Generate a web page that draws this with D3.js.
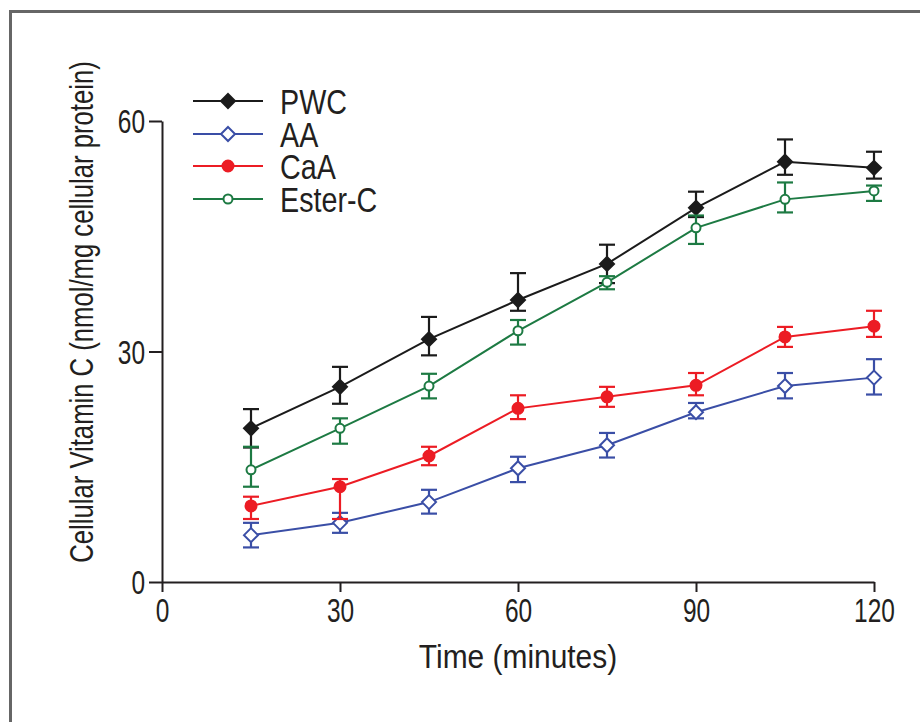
<!DOCTYPE html>
<html>
<head>
<meta charset="utf-8">
<script src="https://cdn.jsdelivr.net/npm/d3@7"></script>
<style>
  body { margin: 0; background: #fff; }
  svg text { font-family: "Liberation Sans", Arial, sans-serif; fill: #231f20; }
</style>
</head>
<body>
<div id="chart"></div>
<script>
// time points (minutes)
const times = [15, 30, 45, 60, 75, 90, 105, 120];
const xTicks = [0, 30, 60, 90, 120];
const yTicks = [0, 30, 60];

// means and error bar extents (above / below)
const pwc = [20.0, 25.4, 31.6, 36.7, 41.4, 48.7, 54.7, 53.9];
const pwcHi = [2.5, 2.6, 2.9, 3.5, 2.5, 2.1, 2.9, 2.1];
const pwcLo = [2.5, 2.2, 2.1, 1.4, 2.5, 1.2, 1.7, 1.4];

const aa = [6.1, 7.7, 10.4, 14.8, 17.8, 22.1, 25.5, 26.6];
const aaHi = [1.6, 1.3, 1.6, 1.5, 1.6, 1.2, 1.7, 2.4];
const aaLo = [1.6, 1.3, 1.5, 1.8, 1.6, 0.8, 1.6, 2.2];

const caa = [9.9, 12.4, 16.4, 22.6, 24.1, 25.6, 31.9, 33.3];
const caaHi = [1.2, 1.0, 1.2, 1.7, 1.3, 1.6, 1.3, 2.0];
const caaLo = [1.7, 4.2, 1.2, 1.4, 1.3, 1.3, 1.3, 1.4];

const ester = [14.6, 20.0, 25.5, 32.7, 39.0, 46.1, 49.8, 50.9];
const esterHi = [3.0, 1.3, 1.6, 1.4, 0.8, 1.6, 2.2, 0.7];
const esterLo = [2.2, 2.0, 1.6, 1.8, 0.9, 2.1, 1.7, 1.3];

const series = [
  {name: 'PWC', values: pwc, hi: pwcHi, lo: pwcLo, color: '#1b1b1b', shape: 'diamond', filled: true},
  {name: 'AA', values: aa, hi: aaHi, lo: aaLo, color: '#3a4ea6', shape: 'diamond', filled: false},
  {name: 'CaA', values: caa, hi: caaHi, lo: caaLo, color: '#ec1c24', shape: 'circle', filled: true},
  {name: 'Ester-C', values: ester, hi: esterHi, lo: esterLo, color: '#1d7a43', shape: 'circle', filled: false},
];

const width = 920;
const height = 722;
const margin = {top: 121, right: 46, bottom: 140, left: 162};
const fontSize = 34;
// the original uses a condensed face; squeeze a regular one horizontally
const tickSqueeze = 0.72;

const svg = d3.select('#chart')
    .append('svg')
    .attr('width', width)
    .attr('height', height);

// frame (open on the right and bottom, cropped)
svg.append('path')
    .attr('d', `M10.5,${height + 5} V11.5 H${width + 5}`)
    .attr('fill', 'none')
    .attr('stroke', '#666')
    .attr('stroke-width', 3);

const x = d3.scaleLinear()
    .domain([0, 120])
    .range([margin.left, width - margin.right]);

const y = d3.scaleLinear()
    .domain([0, 60])
    .range([height - margin.bottom, margin.top]);

const g = svg.append('g');

const xAxis = g.append('g')
    .attr('transform', `translate(0, ${y(0)})`)
    .call(d3.axisBottom(x).tickValues(xTicks).tickSize(10).tickSizeOuter(0).tickPadding(6));

const yAxis = g.append('g')
    .attr('transform', `translate(${x(0)}, 0)`)
    .call(d3.axisLeft(y).tickValues(yTicks).tickSize(13).tickSizeOuter(0).tickPadding(4));

[xAxis, yAxis].forEach((ax) => {
  ax.select('.domain').attr('stroke', '#231f20').attr('stroke-width', 2);
  ax.selectAll('.tick line').attr('stroke', '#231f20').attr('stroke-width', 2);
  ax.selectAll('.tick text')
      .style('font-size', fontSize + 'px')
      .attr('fill', '#231f20')
      .attr('transform', `scale(${tickSqueeze}, 1)`);
});
yAxis.selectAll('.tick text')
    .attr('x', -17 / tickSqueeze)
    .attr('dy', '0.34em');

// axis titles
svg.append('text')
    .attr('transform', `translate(${x(60)}, 668) scale(0.88, 1)`)
    .attr('text-anchor', 'middle')
    .style('font-size', fontSize + 'px')
    .text('Time (minutes)');

svg.append('text')
    .attr('transform', `translate(93, 312) rotate(-90) scale(0.755, 1)`)
    .attr('text-anchor', 'middle')
    .style('font-size', fontSize + 'px')
    .text('Cellular Vitamin C (nmol/mg cellular protein)');

const line = d3.line()
    .x((d) => x(d.t))
    .y((d) => y(d.v));

const drawMarker = (sel, s) => {
  if (s.shape === 'diamond') {
    sel.append('path')
        .attr('d', 'M0,-7 L7,0 L0,7 L-7,0 Z')
        .attr('fill', s.filled ? s.color : '#fff')
        .attr('stroke', s.color)
        .attr('stroke-width', 2);
  } else {
    sel.append('circle')
        .attr('r', s.filled ? 5.5 : 4.5)
        .attr('fill', s.filled ? s.color : '#fff')
        .attr('stroke', s.color)
        .attr('stroke-width', 2);
  }
};

const capW = 8;

series.forEach((s) => {
  const pts = times.map((t, i) => ({t: t, v: s.values[i], hi: s.hi[i], lo: s.lo[i]}));
  const sg = g.append('g');

  sg.append('path')
      .datum(pts)
      .attr('fill', 'none')
      .attr('stroke', s.color)
      .attr('stroke-width', 2)
      .attr('d', line);

  const eb = sg.selectAll('.err')
      .data(pts)
      .enter()
      .append('g')
      .attr('stroke', s.color)
      .attr('stroke-width', 2.2);
  eb.append('line')
      .attr('x1', (d) => x(d.t)).attr('x2', (d) => x(d.t))
      .attr('y1', (d) => y(d.v + d.hi)).attr('y2', (d) => y(d.v - d.lo));
  eb.append('line')
      .attr('x1', (d) => x(d.t) - capW).attr('x2', (d) => x(d.t) + capW)
      .attr('y1', (d) => y(d.v + d.hi)).attr('y2', (d) => y(d.v + d.hi));
  eb.append('line')
      .attr('x1', (d) => x(d.t) - capW).attr('x2', (d) => x(d.t) + capW)
      .attr('y1', (d) => y(d.v - d.lo)).attr('y2', (d) => y(d.v - d.lo));

  sg.selectAll('.pt')
      .data(pts)
      .enter()
      .append('g')
      .attr('transform', (d) => `translate(${x(d.t)}, ${y(d.v)})`)
      .each(function() {
        drawMarker(d3.select(this), s);
      });
});

// legend
const legend = svg.append('g');
const legendY = [101, 134, 166, 199];
series.forEach((s, i) => {
  const row = legend.append('g').attr('transform', `translate(193, ${legendY[i]})`);
  row.append('line')
      .attr('x1', 0).attr('x2', 70)
      .attr('stroke', s.color)
      .attr('stroke-width', 2);
  const m = row.append('g').attr('transform', 'translate(35, 0)');
  drawMarker(m, s);
  row.append('text')
      .attr('transform', 'translate(87, 0) scale(0.82, 1)')
      .attr('dy', '0.36em')
      .style('font-size', '35px')
      .text(s.name);
});
</script>
</body>
</html>
